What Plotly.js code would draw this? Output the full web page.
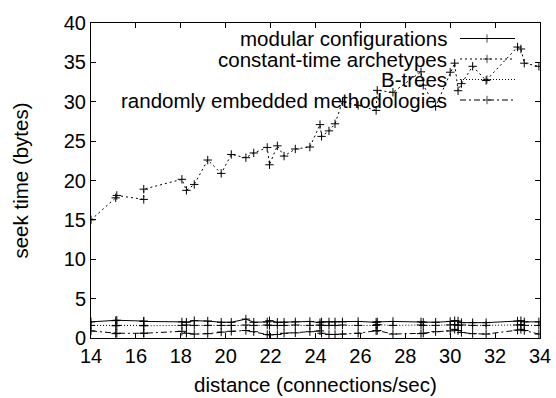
<!DOCTYPE html>
<html>
<head>
<meta charset="utf-8">
<script src="https://cdn.plot.ly/plotly-3.0.1.min.js"></script>
<style>
html,body{margin:0;padding:0;background:#fff;}
#chart{width:556px;height:398px;}
</style>
</head>
<body>
<div id="chart"></div>
<script>
// ---- data ----
const distance = [14.0, 15.1, 15.15, 16.35, 16.35, 18.05, 18.25, 18.6, 19.2, 19.8,
  20.25, 20.9, 21.25, 21.85, 21.95, 22.3, 22.6, 23.1, 23.75, 24.2,
  24.27, 24.6, 24.87, 25.2, 25.9, 26.7, 26.75, 27.45, 28.7, 28.8,
  29.35, 30.0, 30.2, 30.35, 30.5, 31.0, 31.6, 33.0, 33.15, 33.3, 33.95];

const modularConfigurations = [2.05, 2.2, 2.25, 2.15, 2.1, 2.05, 2.0, 2.2, 2.15, 2.0,
  2.0, 2.4, 2.0, 2.05, 2.2, 2.0, 2.0, 2.05, 2.1, 1.95,
  2.05, 2.05, 2.05, 2.05, 2.1, 2.0, 2.05, 2.1, 2.05, 2.0,
  2.0, 2.1, 2.2, 2.15, 1.95, 1.95, 1.95, 2.15, 2.2, 2.05, 2.05];

const constantTimeArchetypes = [15.0, 17.8, 18.1, 17.6, 18.9, 20.15, 18.75, 19.5, 22.6, 20.9,
  23.3, 22.9, 23.5, 24.2, 22.0, 24.4, 23.1, 24.0, 24.25, 27.1,
  25.6, 26.3, 27.2, 30.0, 29.55, 28.9, 31.45, 31.2, 33.8, 32.1,
  29.4, 33.75, 34.9, 31.4, 32.3, 34.5, 32.7, 36.95, 36.7, 34.9, 34.5];

const bTrees = [1.6, 1.55, 1.6, 1.6, 1.55, 1.6, 1.65, 1.6, 1.6, 1.6,
  1.6, 1.65, 1.6, 1.65, 1.6, 1.6, 1.6, 1.65, 1.6, 1.65,
  1.6, 1.6, 1.6, 1.65, 1.6, 1.6, 1.7, 1.6, 1.65, 1.6,
  1.6, 1.65, 1.7, 1.6, 1.65, 1.6, 1.6, 1.65, 1.7, 1.6, 1.6];

const randomlyEmbedded = [0.9, 0.55, 0.6, 0.6, 0.6, 0.85, 0.6, 0.5, 0.55, 0.75,
  0.85, 0.95, 0.8, 0.45, 0.4, 0.45, 0.6, 0.65, 0.8, 0.9,
  0.6, 0.45, 0.45, 0.5, 0.6, 0.9, 0.95, 0.5, 0.55, 0.6,
  0.8, 0.9, 1.1, 0.95, 0.7, 0.55, 0.5, 1.0, 1.1, 0.95, 0.5];

const seriesNames = ["modular configurations", "constant-time archetypes", "B-trees", "randomly embedded methodologies"];
const xTicks = [14, 16, 18, 20, 22, 24, 26, 28, 30, 32, 34];
const yTicks = [0, 5, 10, 15, 20, 25, 30, 35, 40];
const xTitle = "distance (connections/sec)";
const yTitle = "seek time (bytes)";

// ---- styles ----
const FONT = "Liberation Sans, Arial, Helvetica, sans-serif";
const dashes = ["solid", "2px,3px", "1px,2px", "6px,3px,2px,3px"];
const colors = ["#000", "#000", "#000", "#000"];
const seriesY = [modularConfigurations, constantTimeArchetypes, bTrees, randomlyEmbedded];

const marker = {symbol: "cross-thin-open", size: 6, color: "#000", line: {width: 1, color: "#000"}};

const traces = seriesY.map((ys, i) => ({
  x: distance, y: ys, type: "scatter", mode: "lines+markers",
  name: seriesNames[i], showlegend: false,
  line: {color: colors[i], width: 1, dash: dashes[i]},
  marker: marker, cliponaxis: true
}));

// legend samples on pixel-unit overlay axes
const legendRowsY = [38.5, 59, 79.5, 100];
const annotations = [];
seriesNames.forEach((name, i) => {
  traces.push({
    x: [460, 487, 515], y: [legendRowsY[i], legendRowsY[i], legendRowsY[i]],
    xaxis: "x2", yaxis: "y2", type: "scatter", mode: "lines+markers",
    showlegend: false, hoverinfo: "skip",
    line: {color: colors[i], width: 1, dash: dashes[i]},
    marker: Object.assign({}, marker, {size: [0, 6, 0]}),
    cliponaxis: false
  });
  annotations.push({
    x: 449, y: legendRowsY[i], xref: "x2", yref: "y2",
    text: name, showarrow: false, xanchor: "right", yanchor: "middle",
    font: {family: FONT, size: 20.5, color: "#000"}
  });
});
// x axis title placed below the tick labels (paper coords; plot height 315px)
annotations.push({
  x: 0.5, y: -(384 - 338) / 315, xref: "paper", yref: "paper",
  text: xTitle, showarrow: false, xanchor: "center", yanchor: "middle",
  font: {family: FONT, size: 20.5, color: "#000"}
});

const layout = {
  width: 556, height: 398,
  margin: {l: 91, r: 16, t: 23, b: 60},
  paper_bgcolor: "#fff", plot_bgcolor: "#fff",
  font: {family: FONT, size: 20, color: "#000"},
  showlegend: false,
  xaxis: {
    range: [14, 34], tickvals: xTicks, ticktext: xTicks.map(String),
    ticks: "inside", ticklen: 5, tickwidth: 1, tickcolor: "#000",
    showline: true, linecolor: "#000", linewidth: 1, mirror: "ticks",
    showgrid: false, zeroline: false,
    tickfont: {family: FONT, size: 20, color: "#000"}
  },
  yaxis: {
    range: [0, 40], tickvals: yTicks, ticktext: yTicks.map(String),
    ticks: "inside", ticklen: 5, tickwidth: 1, tickcolor: "#000",
    showline: true, linecolor: "#000", linewidth: 1, mirror: "ticks",
    showgrid: false, zeroline: false,
    tickfont: {family: FONT, size: 20, color: "#000"},
    title: {text: yTitle, font: {family: FONT, size: 20.5, color: "#000"}, standoff: 29}
  },
  xaxis2: {overlaying: "x", anchor: "y2", range: [91, 540], visible: false, fixedrange: true},
  yaxis2: {overlaying: "y", anchor: "x2", range: [338, 23], visible: false, fixedrange: true},
  annotations: annotations
};

Plotly.newPlot("chart", traces, layout, {staticPlot: true, displayModeBar: false});
</script>
</body>
</html>
